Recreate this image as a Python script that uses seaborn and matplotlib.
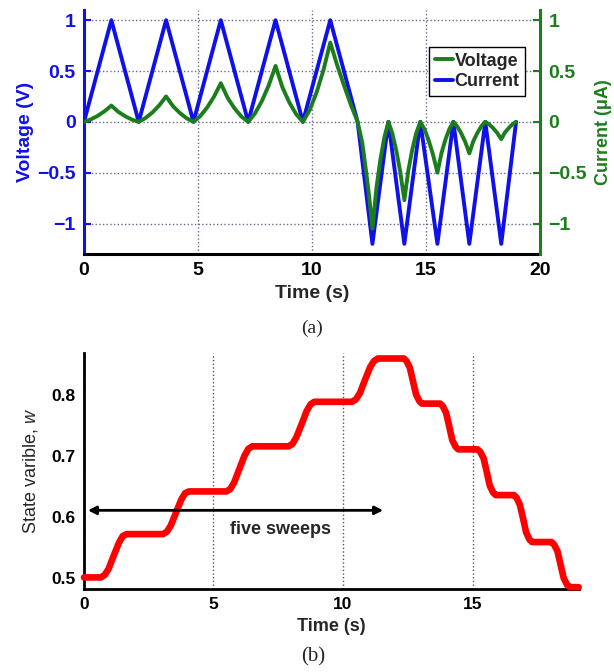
import numpy as np
import pandas as pd
import matplotlib
matplotlib.use('Agg')
import matplotlib.pyplot as plt
import seaborn as sns

## DATA
# (a) current triangle wave (left axis) - knots
time_current = [0, 1.2, 2.4, 3.6, 4.8, 6.0, 7.2, 8.4, 9.6, 10.8, 12.0, 12.65,
                13.35, 14.05, 14.75, 15.5, 16.2, 16.9, 17.6, 18.3, 18.95]
current = [0, 1, 0, 1, 0, 1, 0, 1, 0, 1, 0, -1.2,
           0, -1.2, 0, -1.2, 0, -1.2, 0, -1.2, 0]

# (a) voltage response (right axis)
time_voltage = [0, 0.3, 0.6, 0.9, 1.2, 1.5, 1.8, 2.1, 2.4,
                2.7, 3.0, 3.3, 3.6, 3.9, 4.2, 4.5, 4.8,
                5.1, 5.4, 5.7, 6.0, 6.3, 6.6, 6.9, 7.2,
                7.5, 7.8, 8.1, 8.4, 8.7, 9.0, 9.3, 9.6,
                9.9, 10.2, 10.5, 10.8, 11.1, 11.4, 11.7, 12.0,
                12.2, 12.35, 12.5, 12.65, 12.825, 13.0, 13.175, 13.35,
                13.525, 13.7, 13.875, 14.05, 14.225, 14.4, 14.575, 14.75,
                14.94, 15.12, 15.31, 15.5, 15.675, 15.85, 16.025, 16.2,
                16.375, 16.55, 16.725, 16.9, 17.075, 17.25, 17.425, 17.6,
                17.775, 17.95, 18.125, 18.3, 18.46, 18.63, 18.79, 18.95]
voltage = [0, 0.024, 0.059, 0.104, 0.16, 0.099, 0.056, 0.022, 0,
           0.038, 0.092, 0.162, 0.25, 0.155, 0.088, 0.035, 0,
           0.057, 0.141, 0.247, 0.38, 0.236, 0.133, 0.053, 0,
           0.083, 0.204, 0.358, 0.55, 0.341, 0.193, 0.077, 0,
           0.117, 0.289, 0.507, 0.78, 0.56, 0.36, 0.17, 0,
           -0.2, -0.45, -0.72, -1.05, -0.65, -0.37, -0.15, 0,
           -0.115, -0.285, -0.50, -0.77, -0.477, -0.27, -0.108, 0,
           -0.075, -0.185, -0.325, -0.5, -0.31, -0.175, -0.07, 0,
           -0.047, -0.115, -0.2, -0.31, -0.19, -0.11, -0.043, 0,
           -0.026, -0.063, -0.11, -0.17, -0.105, -0.06, -0.024, 0]

# (b) state variable w
time_state = [0,
              0.65, 0.8, 0.95, 1.15, 1.35, 1.5, 1.65,
              3.05, 3.2, 3.35, 3.55, 3.75, 3.9, 4.05,
              5.5, 5.65, 5.8, 6.0, 6.2, 6.35, 6.5,
              7.9, 8.05, 8.2, 8.4, 8.6, 8.75, 8.9,
              10.35, 10.5, 10.65, 10.85, 11.05, 11.2, 11.35,
              12.35, 12.45, 12.58, 12.7, 12.82, 12.95, 13.05,
              13.75, 13.85, 13.98, 14.1, 14.22, 14.35, 14.45,
              15.2, 15.3, 15.43, 15.55, 15.67, 15.8, 15.9,
              16.6, 16.7, 16.83, 16.95, 17.07, 17.2, 17.3,
              18.05, 18.15, 18.28, 18.4, 18.52, 18.65, 18.75,
              19.1]
state_w = [0.501,
           0.501, 0.505, 0.515, 0.537, 0.558, 0.569, 0.572,
           0.572, 0.576, 0.586, 0.607, 0.628, 0.639, 0.642,
           0.642, 0.646, 0.657, 0.679, 0.701, 0.712, 0.716,
           0.716, 0.720, 0.731, 0.752, 0.774, 0.785, 0.789,
           0.789, 0.793, 0.803, 0.825, 0.846, 0.856, 0.860,
           0.860, 0.856, 0.845, 0.823, 0.801, 0.790, 0.786,
           0.786, 0.782, 0.771, 0.749, 0.726, 0.715, 0.711,
           0.711, 0.707, 0.696, 0.674, 0.651, 0.640, 0.636,
           0.636, 0.632, 0.620, 0.598, 0.575, 0.563, 0.559,
           0.559, 0.555, 0.544, 0.522, 0.500, 0.489, 0.485,
           0.485]

sweep_start, sweep_end, sweep_level = 0.15, 11.55, 0.611

BLUE = '#1010e8'
GREEN = '#1b7d1b'
RED = '#ff0000'
GRID = '#6a6a8c'

sns.set_style('white')
plt.rcParams['font.family'] = ['Liberation Sans', 'DejaVu Sans']
plt.rcParams['font.weight'] = 'normal'
plt.rcParams['mathtext.fontset'] = 'custom'
plt.rcParams['mathtext.it'] = 'Liberation Sans:italic'
plt.rcParams['mathtext.rm'] = 'Liberation Sans'


def bold_ticks(a):
    for lbl in a.get_xticklabels() + a.get_yticklabels():
        lbl.set_fontweight('bold')


fig = plt.figure(figsize=(6.14, 6.72), dpi=100)

## (a)
ax = fig.add_axes([0.1368, 0.622, 0.7427, 0.3631])
ax2 = ax.twinx()
df_a = pd.DataFrame({'t': time_current, 'i': current})
df_v = pd.DataFrame({'t': time_voltage, 'v': voltage})
sns.lineplot(data=df_a, x='t', y='i', ax=ax, color=BLUE, linewidth=2.8,
             estimator=None, sort=False, legend=False)
sns.lineplot(data=df_v, x='t', y='v', ax=ax2, color=GREEN, linewidth=2.8,
             estimator=None, sort=False, legend=False)

for a in (ax, ax2):
    a.set_xlim(0, 20)
    a.set_ylim(-1.3, 1.1)
    a.set_yticks([-1, -0.5, 0, 0.5, 1])
    a.set_yticklabels(['\u22121', '\u22120.5', '0', '0.5', '1'])
    a.spines['top'].set_visible(False)
ax.set_xticks([0, 5, 10, 15, 20])
ax.grid(True, ls=':', color=GRID, lw=1.0)
ax.set_axisbelow(True)
ax2.grid(False)

ax.spines['left'].set_color(BLUE)
ax.spines['left'].set_linewidth(2.2)
ax.spines['right'].set_visible(False)
ax.spines['bottom'].set_color('k')
ax.spines['bottom'].set_linewidth(2.2)
ax2.spines['right'].set_color(GREEN)
ax2.spines['right'].set_linewidth(2.2)
ax2.spines['left'].set_visible(False)
ax2.spines['bottom'].set_visible(False)

ax.tick_params(axis='y', colors=BLUE, labelsize=14, direction='in', length=5, width=1.5, pad=6)
ax.tick_params(axis='x', colors='k', labelsize=14, direction='in', length=5, width=1.5, pad=6)
ax2.tick_params(axis='y', colors=GREEN, labelsize=14, direction='in', length=5, width=1.5, pad=6)
bold_ticks(ax)
bold_ticks(ax2)

ax.set_xlabel('Time (s)', fontsize=14, fontweight='bold', labelpad=4)
ax.set_ylabel('Voltage (V)', fontsize=14, fontweight='bold', color=BLUE, labelpad=2)
ax2.set_ylabel('Current (\u03bcA)', fontsize=13, fontweight='bold', color=GREEN, labelpad=6)

h_b = ax.get_lines()[0]
h_g = ax2.get_lines()[0]
leg = ax2.legend([h_g, h_b], ['Voltage', 'Current'], loc='upper right',
                 bbox_to_anchor=(0.967, 0.848), borderaxespad=0, fancybox=False,
                 framealpha=1, edgecolor='k', handlelength=1.0, handletextpad=0.1,
                 labelspacing=0.2, borderpad=0.3, prop={'size': 13, 'weight': 'bold'})
leg.get_frame().set_linewidth(1.0)

fig.text(312 / 614, 1 - 328 / 672, '(a)', ha='center', va='center',
         fontsize=14, fontweight='normal', family=['Liberation Serif', 'DejaVu Serif'])

## (b)
bx = fig.add_axes([0.1368, 0.1235, 0.8057, 0.3512])
df_w = pd.DataFrame({'t': time_state, 'w': state_w})
sns.lineplot(data=df_w, x='t', y='w', ax=bx, color=RED, linewidth=4.8,
             estimator=None, sort=False, legend=False)
for ln in bx.get_lines():
    ln.set_clip_on(False)
    ln.set_solid_capstyle('round')
    ln.set_solid_joinstyle('round')
    ln.set_zorder(3)

bx.set_xlim(0, 19.1)
bx.set_ylim(0.482, 0.869)
bx.set_xticks([0, 5, 10, 15])
bx.set_yticks([0.5, 0.6, 0.7, 0.8])
bx.grid(True, axis='x', ls=':', color='#555555', lw=1.0)
bx.grid(False, axis='y')
bx.set_axisbelow(True)
for s in ('top', 'right'):
    bx.spines[s].set_visible(False)
for s in ('left', 'bottom'):
    bx.spines[s].set_color('k')
    bx.spines[s].set_linewidth(2.0)
bx.tick_params(labelsize=12.5, direction='in', length=5, width=1.5, colors='k', pad=6)
bold_ticks(bx)

bx.annotate('', xy=(sweep_end, sweep_level), xytext=(sweep_start, sweep_level),
            arrowprops=dict(arrowstyle='<|-|>', color='k', lw=2, mutation_scale=12,
                            shrinkA=0, shrinkB=0))
bx.text(7.6, 0.580, 'five sweeps', ha='center', va='center', fontsize=13, fontweight='bold')

bx.set_xlabel('Time (s)', fontsize=13, fontweight='bold', labelpad=4)
bx.set_ylabel('State varible, $w$', fontsize=13, fontweight='normal', labelpad=8)

fig.text(313 / 614, 1 - 657 / 672, '(b)', ha='center', va='center',
         fontsize=15, fontweight='normal', family=['Liberation Serif', 'DejaVu Serif'])

fig.savefig('out.png', dpi=100)
